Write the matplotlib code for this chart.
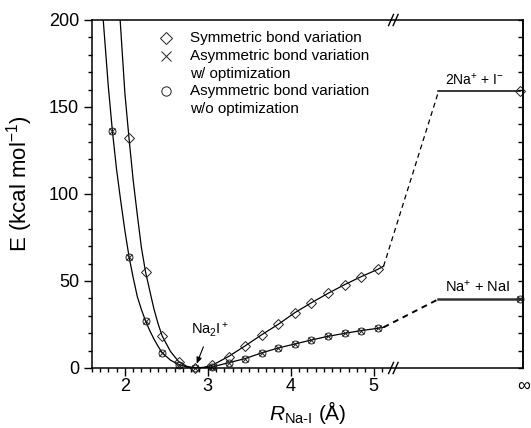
import numpy as np
import matplotlib
matplotlib.use('Agg')
import matplotlib.pyplot as plt
from matplotlib.ticker import FixedLocator, MultipleLocator

plt.rcParams['font.family'] = 'Liberation Sans'
plt.rcParams['mathtext.fontset'] = 'custom'
plt.rcParams['mathtext.rm'] = 'Liberation Sans'
plt.rcParams['mathtext.it'] = 'Liberation Sans:italic'

# computed points, R(Na-I) in Angstrom, E in kcal/mol
r_sym = [2.05, 2.25, 2.45, 2.65, 2.85, 3.05, 3.25, 3.45, 3.65, 3.85, 4.05, 4.25, 4.45, 4.65, 4.85, 5.05]
e_sym = [132, 55, 18.4, 3.6, 0.0, 1.5, 6.6, 12.7, 19.1, 25.1, 31.8, 37.5, 42.9, 47.9, 52.5, 56.7]

r_asym = [1.85, 2.05, 2.25, 2.45, 2.65, 2.85, 3.05, 3.25, 3.45, 3.65, 3.85, 4.05, 4.25, 4.45, 4.65, 4.85, 5.05]
e_asym_opt = [136, 64, 27, 8.8, 2.0, 0.0, 0.6, 3.0, 5.4, 8.7, 11.5, 13.8, 16.1, 18.2, 19.9, 21.5, 22.8]
e_asym_noopt = [136, 64, 27, 8.8, 2.0, 0.0, 0.6, 3.0, 5.4, 8.7, 11.5, 13.8, 16.1, 18.2, 19.9, 21.5, 22.8]

# dissociation limits (R -> infinity)
e_inf_sym = 159.0    # 2Na+ + I-
e_inf_asym = 39.5    # Na+ + NaI

# fitted curves
fit_sym_r = [1.943, 2.00, 2.05, 2.10, 2.15, 2.20, 2.25, 2.30, 2.35, 2.40, 2.45, 2.55, 2.65, 2.75, 2.85, 2.95,
             3.05, 3.25, 3.45, 3.65, 3.85, 4.05, 4.25, 4.45, 4.65, 4.85, 5.05, 5.12]
fit_sym_e = [200, 158, 132, 108, 88, 69, 55, 44.5, 34, 25.5, 18.4, 9.5, 3.6, 0.9, 0.0, 0.4,
             1.5, 6.6, 12.7, 19.1, 25.1, 31.8, 37.5, 42.9, 47.9, 52.5, 56.7, 58.5]
fit_asym_r = [1.739, 1.80, 1.85, 1.90, 1.95, 2.00, 2.05, 2.10, 2.15, 2.20, 2.25, 2.30, 2.35, 2.40, 2.45,
              2.55, 2.65, 2.75, 2.85, 2.95, 3.05, 3.25, 3.45, 3.65, 3.85, 4.05, 4.25, 4.45, 4.65,
              4.85, 5.05, 5.12]
fit_asym_e = [200, 162, 136, 114, 96, 79, 64, 52, 41, 33.5, 27, 21.5, 16.7, 12.5, 8.8,
              4.5, 2.0, 0.5, 0.0, 0.1, 0.6, 3.0, 5.4, 8.7, 11.5, 13.8, 16.1, 18.2, 19.9,
              21.5, 22.8, 23.4]

# dashed links across the axis break
link_r = [5.12, 5.78]
link_sym_e = [58.5, 158.5]
link_asym_e = [23.4, 39.5]

x_inf = 6.77     # where the infinity points sit
x_right = 6.805  # right end of the axis

fig = plt.figure(figsize=(5.31, 4.28), dpi=100)
ax = fig.add_axes([0.1727, 0.1402, 0.8128, 0.8131])

# fitted lines
ax.plot(fit_sym_r, fit_sym_e, color='k', lw=0.9)
ax.plot(fit_asym_r, fit_asym_e, color='k', lw=0.9)

# dashed parts and limits
ax.plot(link_r, link_sym_e, color='k', lw=0.9, dashes=(4, 3))
ax.plot(link_r, link_asym_e, color='k', lw=1.4, dashes=(3, 2.5))
ax.plot([link_r[1], x_inf], [e_inf_sym, e_inf_sym], color='k', lw=1.1)
ax.plot([link_r[1], x_inf], [e_inf_asym, e_inf_asym], color='#333333', lw=1.8)

# markers
mk = dict(ls='none', mfc='none', mec='#222222', mew=0.7, clip_on=False)
ax.plot(r_sym + [x_inf], e_sym + [e_inf_sym], marker='D', ms=4.7, **mk)
ax.plot(r_asym + [x_inf], e_asym_opt + [e_inf_asym], marker='x', ms=5.0, **mk)
ax.plot(r_asym + [x_inf], e_asym_noopt + [e_inf_asym], marker='o', ms=5.0, **mk)

# labels
ax.annotate('Na$_2$I$^+$', xy=(2.866, 2.5), xytext=(3.03, 22), ha='center', va='center', fontsize=10.5,
            arrowprops=dict(arrowstyle='-|>,head_length=0.35,head_width=0.15', color='k', lw=0.8,
                            shrinkA=4, shrinkB=0))
ax.text(5.86, 161, '2Na$^{+}$ + I$^{-}$', fontsize=10, ha='left', va='bottom')
ax.text(5.86, 42, 'Na$^{+}$ + NaI', fontsize=10.5, ha='left', va='bottom')

# legend drawn by hand so markers sit on the first line
lx, tx = 0.172, 0.228
ax.plot([lx], [0.948], marker='D', ms=6.3, transform=ax.transAxes, **mk)
ax.plot([lx], [0.896], marker='x', ms=7.7, transform=ax.transAxes, **mk)
ax.plot([lx], [0.795], marker='o', ms=6.7, transform=ax.transAxes, **mk)
leg_font = 11
ax.text(tx, 0.948, 'Symmetric bond variation', transform=ax.transAxes, fontsize=leg_font, va='center')
ax.text(tx, 0.896, 'Asymmetric bond variation', transform=ax.transAxes, fontsize=leg_font, va='center')
ax.text(tx, 0.844, 'w/ optimization', transform=ax.transAxes, fontsize=leg_font, va='center')
ax.text(tx, 0.795, 'Asymmetric bond variation', transform=ax.transAxes, fontsize=leg_font, va='center')
ax.text(tx, 0.743, 'w/o optimization', transform=ax.transAxes, fontsize=leg_font, va='center')

# axes
ax.set_xlim(1.6, x_right)
ax.set_ylim(0, 200)
ax.xaxis.set_major_locator(FixedLocator([2, 3, 4, 5, x_right]))
ax.set_xticklabels(['2', '3', '4', '5', '\u221e'])
minor = [round(v, 1) for v in np.arange(1.6, 5.15, 0.1)]
ax.xaxis.set_minor_locator(FixedLocator([v for v in minor if v not in (2, 3, 4, 5)]))
ax.yaxis.set_major_locator(MultipleLocator(50))
ax.yaxis.set_minor_locator(MultipleLocator(10))
ax.tick_params(which='both', direction='out', top=False, right=False, width=1.0, labelsize=13)
ax.tick_params(which='major', length=5.5)
ax.tick_params(which='minor', length=3)
ax.tick_params(axis='x', which='major', pad=1.5)
ax.xaxis.get_major_ticks()[-1].tick1line.set_visible(False)
for s in ax.spines.values():
    s.set_linewidth(1.1)

sec = ax.secondary_yaxis('right')
sec.yaxis.set_major_locator(MultipleLocator(10))
sec.tick_params(direction='in', length=3.5, width=1.0, labelright=False)
sec.spines['right'].set_linewidth(1.1)

# axis break marks
for e0, e1 in [(-3.2, 3.2), (196.8, 203.2)]:
    for x0 in (5.18, 5.235):
        ax.plot([x0, x0 + 0.06], [e0, e1], color='k', lw=1.0, clip_on=False)

ax.set_xlabel('$\\mathit{R}_{\\mathrm{Na\\text{-}I}}$ (\u00c5)', fontsize=15, labelpad=3)
ax.set_ylabel('E (kcal mol$^{-1}$)', fontsize=16)
ax.yaxis.set_label_coords(-0.132, 0.53)

fig.savefig('out.png', dpi=100)
